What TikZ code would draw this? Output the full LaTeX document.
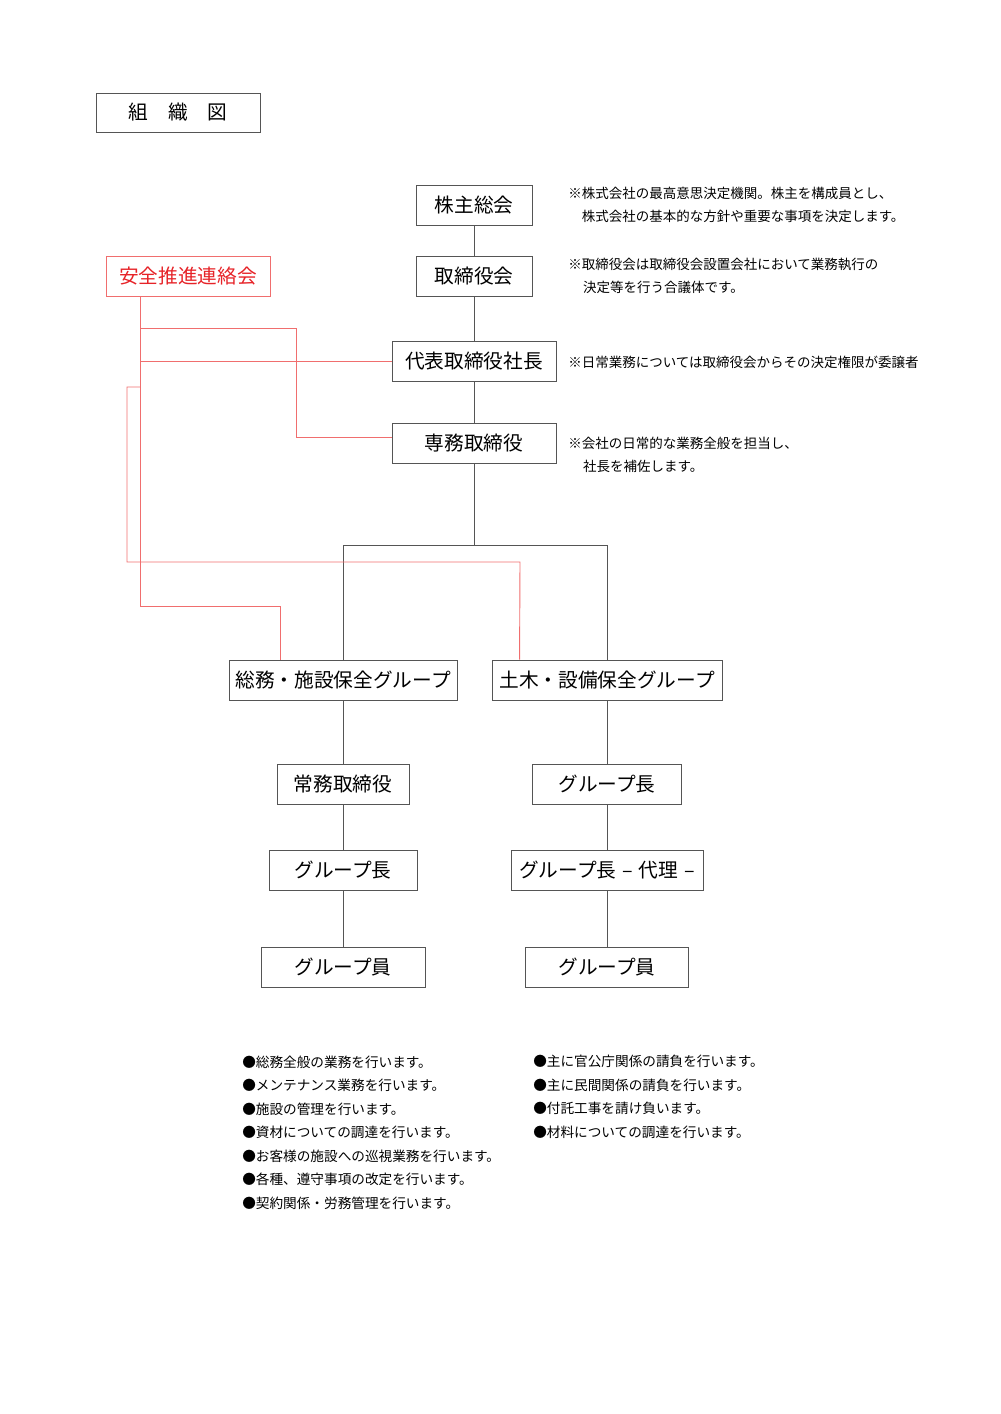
\documentclass[tikz,border=0pt]{standalone}
\usepackage{fontspec}
\setmainfont{Noto Sans CJK JP}
\usetikzlibrary{calc}
\definecolor{boxgray}{RGB}{85,85,85}
\definecolor{anzenred}{RGB}{230,35,40}
\definecolor{anzenline}{RGB}{240,110,110}

\begin{document}
\begin{tikzpicture}[x=0.025cm,y=-0.025cm,
	orgbox/.style={draw=boxgray,line width=0.6pt,minimum height=1cm,inner sep=0pt,
		font=\fontsize{14}{16}\selectfont,minimum width=#1},
	orgbox/.default=4.1cm,
	orgline/.style={draw=boxgray,line width=0.6pt},
	redline/.style={draw=anzenline,line width=0.65pt},
	note/.style={anchor=west,align=left,inner sep=0pt,font=\fontsize{9.6}{16.3}\selectfont},
	duty/.style={anchor=west,align=left,inner sep=0pt,font=\fontsize{9.7}{16.7}\selectfont}]
	\useasboundingbox (0,0) rectangle (1000,1414);
	
	% Title
	\node[orgbox, minimum height=0.975cm] (title) at (178,112.5) {組　織　図};
	
	% Top management
	\node[orgbox=2.9cm] (kabunushi) at (474,205.5) {株主総会};
	\node[orgbox=2.9cm] (torikai) at (474,276.5) {取締役会};
	\node[orgbox] (shacho) at (474,361) {代表取締役社長};
	\node[orgbox] (senmu) at (474,443) {専務取締役};
	\node[orgbox, draw=anzenline, text=anzenred] (anzen) at (188,276) {安全推進連絡会};
	
	% Groups
	\node[orgbox=5.7cm] (somu) at (343,680) {総務・施設保全グループ};
	\node[orgbox=5.75cm] (doboku) at (607,680) {土木・設備保全グループ};
	\node[orgbox=3.3cm] (jomu) at (343,784) {常務取締役};
	\node[orgbox=3.725cm] (glright) at (607,784) {グループ長};
	\node[orgbox=3.7cm] (glleft) at (343,870.5) {グループ長};
	\node[orgbox=4.8cm] (dairi) at (607,870.5) {グループ長\hspace{0.3em}–\hspace{0.3em}代理\hspace{0.3em}–};
	\node[orgbox] (gileft) at (343,967) {グループ員};
	\node[orgbox=4.075cm] (giright) at (607,967) {グループ員};
	
	% Chain of command
	\foreach \a/\b in {kabunushi/torikai,torikai/shacho,shacho/senmu,
		somu/jomu,jomu/glleft,glleft/gileft,doboku/glright,glright/dairi,dairi/giright} {
		\draw[orgline] (\a) -- (\b);
	}
	\coordinate (split) at (474,545);
	\draw[orgline] (senmu) -- (split);
	\draw[orgline] (split) -| (somu);
	\draw[orgline] (split) -| (doboku);
	
	% Safety liaison lines
	\coordinate (rtop) at (140,296);
	\draw[redline] (rtop) -- (140,606) -| ($(somu.north west)+(52,0)$);
	\draw[redline] (140,328) -| (296,437) -- ($(senmu.west)+(0,-6)$);
	\draw[redline] (shacho.west) -- (shacho.west -| rtop);
	\draw[redline] (140,387) -- (127,387) |- (520,562) -- ($(doboku.north west)+(28,0)$);
	
	% Notes
	\node[note] (note1) at (568,204.5) {※株式会社の最高意思決定機関。株主を構成員とし、\\\hspace*{1em}株式会社の基本的な方針や重要な事項を決定します。};
	\node[note] (note2) at (568,275.5) {※取締役会は取締役会設置会社において業務執行の\\\hspace*{1.1em}決定等を行う合議体です。};
	\node[note] (note3) at (568,362) {※日常業務については取締役会からその決定権限が委譲者};
	\node[note] (note4) at (568,454.5) {※会社の日常的な業務全般を担当し、\\\hspace*{1.1em}社長を補佐します。};
	
	% Duties
	\node[duty] (dutyleft) at (242,1132.5) {●総務全般の業務を行います。\\●メンテナンス業務を行います。\\●施設の管理を行います。\\●資材についての調達を行います。\\●お客様の施設への巡視業務を行います。\\●各種、遵守事項の改定を行います。\\●契約関係・労務管理を行います。};
	\node[duty] (dutyright) at (533,1097) {●主に官公庁関係の請負を行います。\\●主に民間関係の請負を行います。\\●付託工事を請け負います。\\●材料についての調達を行います。};
\end{tikzpicture}
\end{document}
